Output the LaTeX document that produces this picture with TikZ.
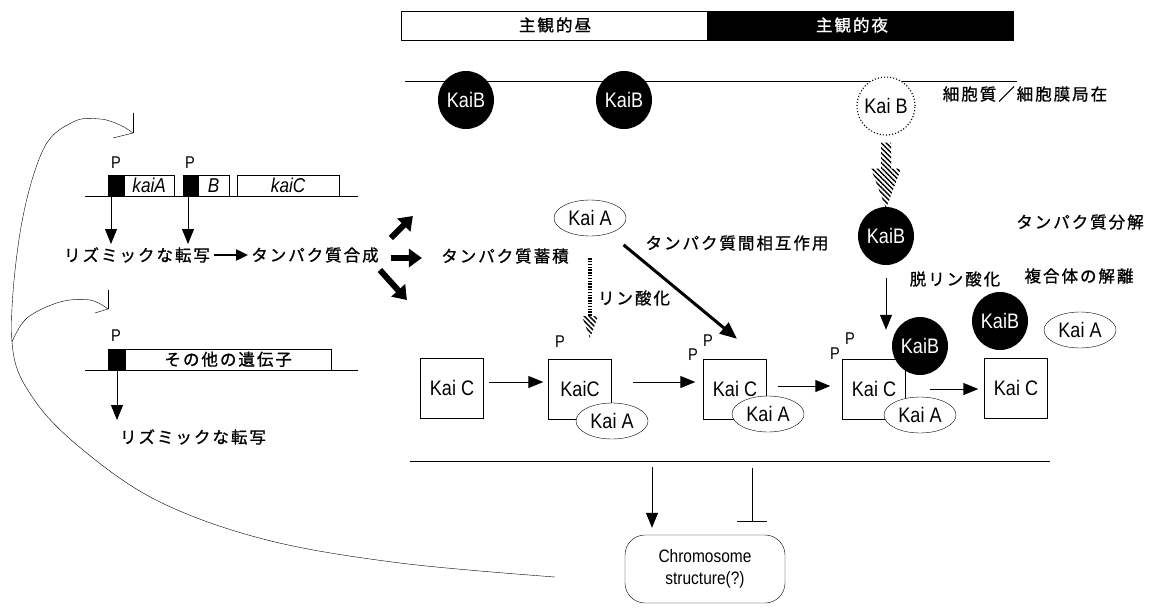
\documentclass[tikz,border=0pt]{standalone}
\usepackage{fontspec}
\setmainfont{Liberation Sans}
\newfontfamily\jp[LetterSpace=12,FakeBold=1]{Noto Sans CJK JP}
\newfontfamily\lat[FakeStretch=0.86]{Liberation Sans}
\usetikzlibrary{shapes.geometric,arrows.meta,patterns.meta}
\begin{document}
\begin{tikzpicture}[x=1pt,y=-1pt,
  jp/.style={font=\jp\fontsize{16.5}{19}\selectfont, inner sep=0pt},
  kai/.style={font=\lat\fontsize{21}{23}\selectfont, inner sep=0pt},
  kaib/.style={ellipse, fill=black, text=white, minimum width=56pt, minimum height=58pt, kai},
  kaia/.style={ellipse, draw, fill=white, minimum width=72pt, minimum height=36pt, kai},
  kaic/.style={rectangle, draw, fill=white, minimum width=63pt, minimum height=60pt, kai},
  plab/.style={font=\lat\fontsize{17}{19}\selectfont, inner sep=0pt},
  genebox/.style={draw, fill=white, minimum height=21pt, inner sep=0pt, anchor=south west, font=\lat\itshape\fontsize{20}{21}\selectfont},
  prom/.style={fill=black, minimum height=21pt, inner sep=0pt, anchor=south west},
  arr/.style={line width=1pt, -{Triangle[length=15pt,width=12pt]}},
  fat/.style={line width=6pt, -{Triangle[length=13pt,width=18pt]}},
  hatch/.style={pattern={Lines[angle=-45,distance=3.5pt,line width=1.4pt]}},
]
\useasboundingbox (0,0) rectangle (1154,608);

% ---------- top bar ----------
\node[draw, minimum width=306pt, minimum height=29pt, inner sep=0pt, anchor=north west] (day) at (401,11) {};
\node[draw, fill=black, minimum width=306pt, minimum height=29pt, inner sep=0pt, anchor=north west] (night) at (707,11) {};
\node[jp] (daytxt) at (555,25) {主観的昼};
\node[jp, text=white] (nighttxt) at (852,25) {主観的夜};

% ---------- membrane line ----------
\coordinate (ml) at (405,81);
\coordinate (mr) at (1017,81);
\draw (ml) -- (mr);
\node[kaib] (kb1) at (466,100) {KaiB};
\node[kaib] (kb2) at (624,100) {KaiB};
\node[circle, draw, dotted, line width=1.1pt, fill=white, minimum size=58pt, kai] (kbd) at (886,106) {Kai B};
\node[jp] (loc) at (1025,94) {細胞質／細胞膜局在};

% hatched arrow
\path[hatch] (kbd.south) ++(-5,7) -- ++(10,0) -- ++(0,26) -- ++(10,0) -- ++(-15,40) -- ++(-15,-40) -- ++(10,0) -- cycle;

\node[kaib] (kb3) at (886,236) {KaiB};
\node[jp] (tbunkai) at (1080,222) {タンパク質分解};
\node[jp] (fukugo) at (1079,276) {複合体の解離};
\node[jp] (datsu) at (955,279) {脱リン酸化};

% ---------- KaiA top ----------
\node[kaia] (ka0) at (590,218) {Kai A};
\node[jp] (chikuseki) at (505,256) {タンパク質蓄積};
\node[jp] (sogo) at (737,243) {タンパク質間相互作用};
\node[jp] (rin) at (634,298) {リン酸化};

% ---------- KaiC row ----------
\node[kaic] (c1) at (452,388) {Kai C};
\node[kaic] (c2) at (580,389) {KaiC};
\node[kaic] (c3) at (735,389) {Kai C};
\node[kaic] (c4) at (874,389) {Kai C};
\node[kaic] (c5) at (1016,388) {Kai C};
\node[kaia] (a2) at (612,421) {Kai A};
\node[kaia] (a3) at (768,414) {Kai A};
\node[kaia] (a4) at (920,415) {Kai A};
\node[kaib] (b4) at (920,346) {KaiB};
\node[kaib] (b5) at (1000,321) {KaiB};
\node[kaia] (a5) at (1080,330) {Kai A};

\node[plab] (p2) at (560,342) {P};
\node[plab] (p3a) at (708,341) {P};
\node[plab] (p3b) at (693,355) {P};
\node[plab] (p4a) at (850,339) {P};
\node[plab] (p4b) at (835,354) {P};

\coordinate (ya) at (0,382);
\coordinate (yb) at (0,386);
\coordinate (yc) at (0,389);
\draw[arr, shorten <=5pt, shorten >=5pt] (c1.east |- ya) -- (c2.west |- ya);
\draw[arr, shorten <=21pt, shorten >=8pt] (c2.east |- ya) -- (c3.west |- ya);
\draw[arr, shorten <=11pt, shorten >=12pt] (c3.east |- yb) -- (c4.west |- yb);
\draw[arr, shorten <=24pt, shorten >=6pt] (c4.east |- yc) -- (c5.west |- yc);

% dotted phosphorylation arrow
\draw[line width=4pt, dash pattern=on 1.4pt off 1.4pt] (ka0.south) ++(0,22) coordinate (d0) -- ++(0,58) coordinate (d1);
\path[hatch] (d1) ++(-8,0) -- ++(16,0) -- ++(-8,22) -- cycle;

% interaction arrow
\draw[line width=3pt, -{Triangle[length=17pt,width=14pt]}] ([shift={(8,14)}]ka0.south east) -- ([shift={(2,-20)}]c3.north);

% dephosphorylation arrow
\draw[arr, shorten <=13pt, shorten >=29pt] (kb3.south) -- (kb3.south |- c4.north);

% ---------- bottom ----------
\coordinate (bl) at (410,461);
\coordinate (br) at (1050,461);
\draw (bl) -- (br);
\node[draw, rounded corners=20pt, minimum width=160pt, minimum height=68pt, align=center, font=\lat\fontsize{18}{22}\selectfont] (chrom) at (705,569) {Chromosome\\structure(?)};
\coordinate (m1) at (652,461);
\coordinate (m2) at (752,461);
\draw[arr, shorten <=6pt, shorten >=7pt] (m1) -- (m1 |- chrom.north);
\draw[line width=1pt, shorten <=7pt, -{Bar[width=30pt,line width=1pt]}] (m2) -- ++(0,61);

% ---------- gene 1 ----------
\coordinate (g1l) at (85,196);
\coordinate (g1r) at (358,196);
\draw (g1l) -- (g1r);
\node[genebox, minimum width=50pt] (ga) at (124,196) {kaiA};
\node[prom, minimum width=16pt] (pa) at (108,196) {};
\node[genebox, minimum width=31pt] (gb) at (198,196) {B};
\node[prom, minimum width=15pt] (pb) at (183,196) {};
\node[genebox, minimum width=102pt] (gc) at (237,196) {kaiC};
\node[plab] (pla) at (116,163) {P};
\node[plab] (plb) at (190,163) {P};
\node[jp] (rt1) at (137,255) {リズミックな転写};
\node[jp] (gosei) at (315,255) {タンパク質合成};
\draw[arr] ([xshift=3pt]pa.south west) -- ++(0,48);
\draw[arr] ([xshift=5pt]pb.south west) -- ++(0,48);
\draw[line width=2pt, -{Triangle[length=12pt,width=11pt]}, shorten <=4pt, shorten >=3pt] (rt1.east) -- (gosei.west);

% fat arrows
\draw[fat] ([shift={(12,-17)}]gosei.east) -- ++(22,-22);
\draw[fat] ([shift={(12,3)}]gosei.east) -- ++(31,0);
\draw[fat] ([shift={(1,15)}]gosei.east) -- ++(27,30);

% ---------- gene 2 ----------
\coordinate (g2l) at (85,370);
\coordinate (g2r) at (358,370);
\draw (g2l) -- (g2r);
\node[genebox, minimum width=206pt, font=\jp\fontsize{16.5}{19}\selectfont] (go) at (125,370) {その他の遺伝子};
\node[prom, minimum width=17pt] (po) at (108,370) {};
\node[plab] (plo) at (116,336) {P};
\draw[arr] ([xshift=9pt]po.south west) -- ++(0,50);
\node[jp] (rt2) at (193,437) {リズミックな転写};

% ---------- feedback curves ----------
\coordinate (fbstart) at (555,577);
\coordinate (fbsplit) at (12,342);
\coordinate (h1) at (133,133);
\coordinate (h2) at (108,309);
\draw plot[smooth, tension=0.6] coordinates {(fbstart) (400,563) (267,540) (160,502) (83,450) (33,398) (fbsplit) (20,233) (43,150) (73,122) (100,119) (120,125) (h1)};
\draw (h1) -- ++(0,-20);
\draw (h1) -- ++(-20,5);
\draw plot[smooth, tension=0.6] coordinates {(fbsplit) (27,318) (60,302) (90,300) (h2)};
\draw (h2) -- ++(0,-19);
\draw (h2) -- ++(-13,4);
\end{tikzpicture}
\end{document}
